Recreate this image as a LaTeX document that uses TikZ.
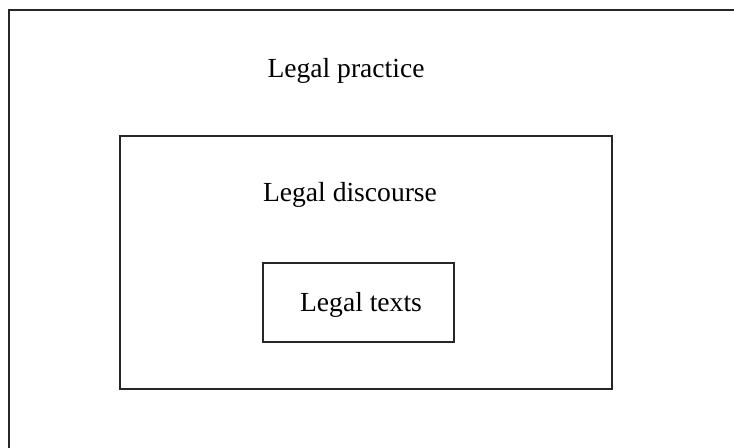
\documentclass[tikz,border=0pt]{standalone}
\usepackage{fontspec}
\setmainfont{Liberation Serif}

\tikzset{
    box/.style={draw=black!85, line width=0.8pt},
    label/.style={font=\fontsize{15.7}{18}\selectfont, inner sep=0pt}
}

\begin{document}
\begin{tikzpicture}[x=0.02cm, y=-0.02cm]
            \useasboundingbox (0,0) rectangle (734,448);
            \begin{scope}
                \clip (0,0) rectangle (734,448);
                \draw[box] (9,10) rectangle (760,470);
            \end{scope}
            \draw[box] (120,136) rectangle (612,389);
            \draw[box] (263,263) rectangle (454,342);
            \node[label] (practice) at (346,71) {Legal practice};
            \node[label] (discourse) at (350,195) {Legal discourse};
            \node[label] (texts) at (361,305) {Legal texts};
        \end{tikzpicture}
\end{document}
